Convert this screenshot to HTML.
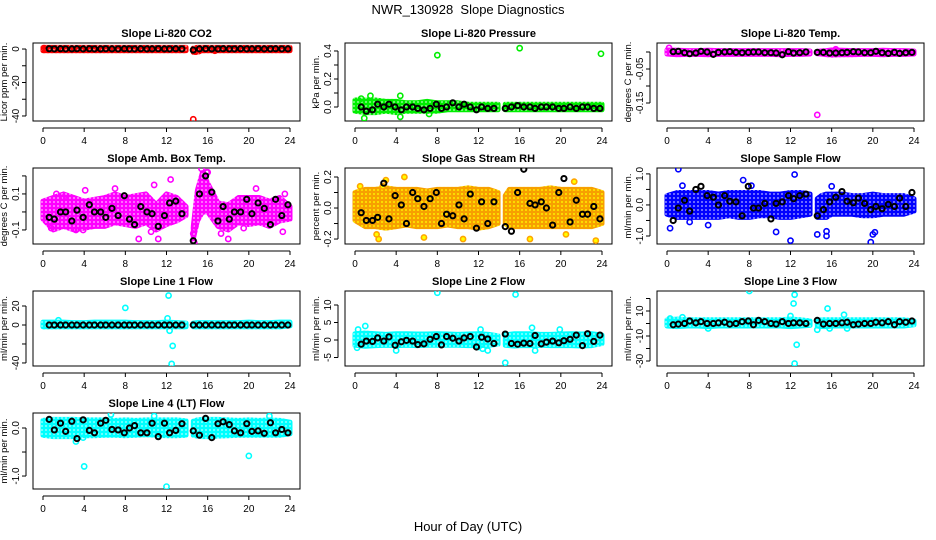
<!DOCTYPE html>
<html><head><meta charset="utf-8"><style>
body{margin:0;background:#fff;}
svg{display:block;font-family:"Liberation Sans",sans-serif;}
</style></head><body>
<svg id="chart" width="936" height="540" viewBox="0 0 936 540" xmlns="http://www.w3.org/2000/svg">
<defs id="defs"></defs>
<text x="468" y="14" text-anchor="middle" font-size="13">NWR_130928&#160; Slope Diagnostics</text>
<text x="468" y="531" text-anchor="middle" font-size="13">Hour of Day (UTC)</text>
</svg>
<script>
// shared hours of the black (averaged) points
const blackHours=[0.6,1.1,1.7,2.2,2.8,3.3,3.9,4.5,5.0,5.6,6.1,6.7,7.3,7.9,8.4,8.9,9.5,10.1,10.6,11.2,11.8,12.3,12.9,13.5,14.6,15.2,15.8,16.4,17.0,17.5,18.1,18.6,19.2,19.8,20.3,20.9,21.5,22.1,22.6,23.2,23.8];
const xTicks=[0,4,8,12,16,20,24];
const titles=["Slope Li-820 CO2","Slope Li-820 Pressure","Slope Li-820 Temp.","Slope Amb. Box Temp.","Slope Gas Stream RH","Slope Sample Flow","Slope Line 1 Flow","Slope Line 2 Flow","Slope Line 3 Flow","Slope Line 4 (LT) Flow"];
const yTitles=["Licor ppm per min.","kPa per min.","degrees C per min.","degrees C per min.","percent per min.","ml/min per min.","ml/min per min.","ml/min per min.","ml/min per min.","ml/min per min."];
const yDomains=[[-43,3.6],[-0.1,0.457],[-0.203,0.0265],[-0.178,0.244],[-0.232,0.258],[-1.258,1.19],[-43.2,35.8],[-7.43,14.0],[-34,26],[-1.27,0.3125]];
const yTickVals=[[0,-10,-20,-30,-40],[0,0.1,0.2,0.3,0.4],[0,-0.05,-0.1,-0.15],[-0.1,0,0.1,0.2],[-0.2,-0.1,0,0.1,0.2],[-1,-0.5,0,0.5,1],[-40,-20,0,20],[-5,0,5,10],[-30,-20,-10,0,10,20],[-1,-0.5,0]];
const yTickLabels=[["0","","-20","","-40"],["0.0","","0.2","","0.4"],["","-0.05","","-0.15"],["-0.1","","0.1",""],["-0.2","","0.0","","0.2"],["-1.0","","0.0","","1.0"],["-40","","0","20"],["-5","0","5","10"],["-30","","-10","","10",""],["-1.0","","0.0"]];
const colors=["#ff0000","#00ee00","#ff00ff","#ff00ff","#ffa500","#0000ff","#00ffff","#00ffff","#00ffff","#00ffff"];
// band (dense coloured cloud) per panel: hours, low, high (null = gap)
const bandT=[0,1,2,3,4,5,6,7,8,9,10,11,12,13,13.9,null,14.6,15,15.5,16,17,18,19,20,21,22,23,24];
const bandLo=[
[-1,-1,-1,-1,-1,-1,-1,-1,-1,-1,-1,-1,-1,-1,-1,null,-2,-2,-1,-1,-1,-1,-1,-1,-1,-1,-1,-1],
[-0.03,-0.04,-0.04,-0.03,-0.04,-0.03,-0.03,-0.03,-0.03,-0.02,-0.02,-0.02,-0.02,-0.02,-0.02,null,-0.02,-0.02,-0.02,-0.02,-0.02,-0.02,-0.02,-0.02,-0.02,-0.02,-0.02,-0.02],
[-0.006,-0.008,-0.007,-0.007,-0.008,-0.007,-0.007,-0.007,-0.007,-0.007,-0.007,-0.008,-0.007,-0.007,-0.006,null,-0.005,-0.006,-0.008,-0.009,-0.008,-0.008,-0.007,-0.007,-0.008,-0.007,-0.007,-0.006],
[-0.04,-0.1,-0.08,-0.1,-0.09,-0.08,-0.08,-0.06,-0.07,-0.08,-0.06,-0.1,-0.07,-0.05,-0.02,null,-0.15,-0.05,0.0,0.0,-0.08,-0.1,-0.06,-0.07,-0.06,-0.08,-0.05,-0.04],
[-0.08,-0.12,-0.12,-0.13,-0.12,-0.11,-0.12,-0.12,-0.12,-0.11,-0.12,-0.12,-0.13,-0.12,-0.1,null,-0.1,-0.12,-0.12,-0.12,-0.12,-0.12,-0.12,-0.12,-0.12,-0.12,-0.12,-0.1],
[-0.3,-0.4,-0.4,-0.4,-0.4,-0.4,-0.35,-0.4,-0.4,-0.35,-0.35,-0.4,-0.4,-0.35,-0.3,null,-0.4,-0.4,-0.4,-0.3,-0.3,-0.3,-0.35,-0.35,-0.3,-0.3,-0.3,-0.2],
[-2,-2,-2,-2,-2,-2,-2,-2,-2,-2,-2,-2,-2,-2,-2,null,-2,-2,-2,-2,-2,-2,-2,-2,-2,-2,-2,-1],
[-1.5,-1.8,-1.6,-1.5,-1.6,-1.5,-1.6,-1.5,-1.5,-1.5,-1.5,-1.6,-1.6,-1.5,-1.2,null,-1.5,-1.6,-1.7,-1.6,-1.6,-1.5,-1.6,-1.6,-1.6,-1.7,-1.6,-1.0],
[-2,-2.5,-2,-2,-2.5,-2,-2,-2,-2,-2,-2,-2,-2.5,-2,-1.5,null,-2,-2.5,-2.5,-2,-2,-2,-2,-2,-2,-2,-2,-1],
[-0.15,-0.18,-0.18,-0.18,-0.16,-0.16,-0.15,-0.15,-0.16,-0.15,-0.14,-0.15,-0.16,-0.16,-0.15,null,-0.15,-0.17,-0.18,-0.18,-0.17,-0.16,-0.15,-0.15,-0.15,-0.15,-0.15,-0.12]];
const bandHi=[
[1,1,1,1,1,1,1,1,1,1,1,1,1,1,1,null,0.5,1,1,1,1,1,1,1,1,1,1,1],
[0.05,0.05,0.05,0.04,0.04,0.03,0.03,0.04,0.03,0.03,0.03,0.02,0.02,0.02,0.02,null,0.02,0.02,0.02,0.02,0.02,0.02,0.02,0.02,0.02,0.02,0.02,0.02],
[0.006,0.005,0.004,0.004,0.005,0.004,0.004,0.004,0.004,0.004,0.004,0.004,0.004,0.004,0.003,null,0.002,0.003,0.004,0.006,0.005,0.004,0.004,0.004,0.005,0.004,0.004,0.003],
[0.06,0.08,0.1,0.08,0.06,0.07,0.08,0.1,0.08,0.09,0.1,0.04,0.1,0.08,0.03,null,-0.08,0.12,0.22,0.16,0.05,0.04,0.08,0.08,0.08,0.06,0.08,0.03],
[0.1,0.12,0.12,0.13,0.12,0.12,0.12,0.11,0.12,0.12,0.12,0.13,0.12,0.12,0.1,null,0.08,0.12,0.12,0.12,0.12,0.12,0.13,0.12,0.12,0.12,0.12,0.1],
[0.3,0.4,0.4,0.4,0.4,0.35,0.4,0.4,0.4,0.4,0.35,0.35,0.4,0.4,0.35,null,0.2,0.3,0.35,0.35,0.35,0.3,0.3,0.35,0.3,0.3,0.3,0.2],
[3,3,3,2.5,2.5,3,3,3,3,2.5,2.5,2.5,3,2.5,2,null,2,2.5,2.5,2.5,2.5,2.5,2.5,3,2.5,2.5,3,3],
[1.8,2.0,1.8,1.6,1.8,1.8,1.7,1.7,1.8,1.7,1.6,1.7,1.8,1.6,1.2,null,1.5,1.6,1.8,1.8,1.8,1.6,1.6,1.7,1.8,1.7,1.8,1.4],
[3,3.5,3,3,3,3,3,3,3,3,3,3,3.5,3,2,null,2,3,3,3,3,3,3,3,3,3,3,2],
[0.16,0.18,0.18,0.18,0.17,0.17,0.17,0.16,0.17,0.16,0.17,0.17,0.17,0.17,0.15,null,0.14,0.17,0.18,0.18,0.18,0.17,0.16,0.17,0.16,0.17,0.16,0.12]];
// outlier coloured points per panel
const outT=[[14.6,14.8,16.7,0.1],[8.0,16.0,23.9,0.9,1.5,4.4,4.4,7.2,0.6],[14.6,0.2,16.4],[0.8,1.3,2.0,3.2,3.9,4.1,7.0,9.3,10.5,10.8,11.2,12.4,14.7,14.6,14.8,15.4,15.9,16.0,17.3,18.0,19.5,20.7,23.5,23.3],[2.3,2.7,3.0,4.8,6.7,10.5,17.0,20.5,21.3,23.4,0.5,2.1],[1.1,0.3,12.4,12.0,19.8,20.0,20.2,14.6,15.5,15.5,1.5,7.4,10.6,16.0,2.2,8.2,4.0],[8.0,12.2,12.1,12.3,12.6,12.5,1.5],[8.0,15.6,14.6,0.2,1.0,0.3,4.0,12.2,12.4,12.9,17.2,17.5,19.9,12.0],[8.0,12.4,12.3,12.0,12.6,12.4,15.6,17.2,14.6,15.8,17.5,4.0,0.3,1.5],[4.0,12.0,20.0,3.2,6.6,22.0,3.9,10.8]];
const outV=[[-42,-1.5,-1,0.5],[0.37,0.42,0.38,-0.08,0.08,0.08,-0.07,-0.05,0.06],[-0.185,0.012,0.008],[-0.09,0.1,0.08,-0.1,-0.1,0.12,0.13,-0.15,-0.11,0.15,-0.15,0.18,-0.17,-0.12,-0.08,0.24,0.22,0.22,-0.12,-0.15,-0.09,0.13,0.1,-0.11],[-0.2,0.14,0.18,0.2,-0.19,-0.2,-0.2,-0.17,0.17,-0.21,0.14,-0.17],[1.15,-0.75,0.98,-1.15,-1.2,-0.95,-0.88,-0.95,-0.85,-1.0,0.62,0.8,-0.87,0.6,-0.55,0.62,-0.65],[18,31,7,-6,-22,-41,5],[13.5,13,-6.5,-2.2,4,3,-3,3,-2.5,-3,3.5,-3,3,-2],[26,23,16,6,-17,-32,12,7,-5,-4,-4,-4,4,5],[-0.8,-1.22,-0.58,-0.28,0.28,0.25,-0.2,0.25]];
// black (averaged) values per panel, matched to blackHours
const blackV=[
[0.2,0.1,0.2,0.1,0.1,0.2,0.1,0.2,0.1,0.1,0.2,0.1,0.1,0.2,0.1,0.1,0.2,0.1,0.1,0.2,0.1,0.1,0.2,0.1,-0.6,0.1,0.2,0.1,0.1,0.2,0.1,0.1,0.2,0.1,0.1,0.2,0.1,0.1,0.2,0.1,0.1],
[0.0,-0.03,-0.02,0.02,0.0,0.02,0.0,-0.02,0.0,0.0,-0.01,-0.02,-0.01,0.02,-0.01,0.0,0.03,0.0,0.02,0.0,-0.02,0.0,-0.01,-0.01,-0.01,0.0,0.01,0.0,0.0,-0.01,0.0,0.0,0.0,-0.01,-0.01,0.0,-0.01,0.0,0.0,-0.01,-0.01],
[0.001,0.002,-0.002,-0.005,-0.003,0.002,0.0,-0.007,-0.001,0.0,0.001,-0.001,-0.002,-0.001,0.0,0.0,-0.002,-0.002,-0.003,-0.008,0.001,-0.003,-0.002,0.0,-0.001,-0.001,-0.003,-0.003,-0.002,-0.001,0.001,0.0,-0.002,-0.002,0.002,-0.002,-0.004,-0.001,-0.004,-0.002,-0.001],
[-0.03,-0.04,0.0,0.0,-0.05,0.01,-0.03,0.04,0.0,0.0,-0.03,0.02,-0.02,0.09,-0.04,-0.07,0.03,0.0,-0.01,-0.08,-0.02,0.05,0.06,-0.01,-0.16,0.1,0.2,0.11,-0.05,0.03,-0.04,0.0,0.0,0.07,-0.01,0.05,0.02,-0.07,0.07,-0.02,0.04],
[-0.03,-0.08,-0.08,-0.06,0.16,-0.07,0.08,0.02,-0.1,0.1,0.06,0.01,0.06,0.1,-0.1,-0.04,-0.05,0.02,-0.07,0.09,-0.13,0.04,-0.1,0.04,-0.12,-0.15,0.1,0.25,0.03,0.02,0.04,0.0,-0.11,0.1,0.19,-0.09,0.05,-0.04,-0.04,0.01,-0.07],
[-0.5,-0.1,0.15,-0.2,0.5,0.6,0.3,0.25,0.0,0.3,0.12,0.1,-0.35,0.6,-0.1,-0.1,0.05,-0.45,0.05,0.1,0.3,0.2,0.3,0.35,-0.35,-0.15,0.1,0.25,0.43,0.12,0.07,0.22,0.05,-0.15,-0.05,-0.12,0.02,-0.05,0.22,-0.05,0.4],
[0,0,0,0,0,0,0,0,0,0,0,0,0,0,0,0,0,0,0,0,0,0,0,0,0,0,0,0,0,0,0,0,0,0,0,0,0,0,0,0,0],
[-1.2,-0.3,-0.4,0.6,-0.3,0.9,-1.5,-0.5,-0.1,-0.3,-1.3,-1.1,0.2,1.0,-1.4,1.0,0.5,-0.3,0.6,1.0,-2.0,0.8,0.3,-1.0,1.7,-1.0,-1.2,-0.9,-1.0,1.3,-1.1,-0.6,-0.3,-0.8,-0.2,0.2,1.4,-1.6,1.8,-0.4,1.4],
[-1,-0.5,0,2,0.5,1.5,0,0,0.5,1,-0.5,0,1.5,2,-1,2.5,1.5,0,-0.5,1.5,0,0.5,0.5,0,2.5,-0.5,0,0,0.5,1,-1,-0.5,0,0,1,0.5,1.5,-1,1.5,1,2],
[0.18,-0.04,0.1,-0.07,0.14,-0.22,0.17,-0.05,-0.1,0.1,0.16,-0.03,-0.04,-0.1,0.0,0.05,-0.1,-0.1,0.1,-0.18,0.1,-0.1,-0.05,0.09,-0.06,-0.15,0.2,-0.2,0.09,0.13,0.07,-0.06,-0.1,0.09,-0.07,-0.06,-0.11,0.11,-0.1,-0.03,-0.1]];

const NS="http://www.w3.org/2000/svg";
const svg=document.getElementById('chart');
const defs=document.getElementById('defs');
const colTick0=[43,355,667];
const rowBox=[[43,121],[168,244],[291,366],[413,489]];
const XW=247/24;
function mk(tag,attrs,parent){const e=document.createElementNS(NS,tag);for(const k in attrs)e.setAttribute(k,attrs[k]);(parent||svg).appendChild(e);return e;}
for(let p=0;p<10;p++){
  const col=p%3,row=Math.floor(p/3);
  const x0=colTick0[col],bl=x0-10,br=x0+257,[bt,bb]=rowBox[row];
  const [ymin,ymax]=yDomains[p];
  const xs=h=>x0+h*XW;
  const ys=v=>bb-(v-ymin)/(ymax-ymin)*(bb-bt);
  const pat=mk('pattern',{id:'pat'+p,width:4,height:4,patternUnits:'userSpaceOnUse'},defs);
  mk('rect',{x:0,y:0,width:4,height:4,fill:p===4?'#f7a000':colors[p]},pat);
  mk('circle',{cx:2,cy:2,r:1,fill:p===4?'#ffee00':'#fff','fill-opacity':p===4?1:0.55},pat);
  const g=mk('g',{});
  
  
  const cp=mk('clipPath',{id:'cp'+p},g);mk('rect',{x:bl,y:bt,width:br-bl,height:bb-bt},cp);
  const t=mk('text',{x:(bl+br)/2,y:bt-6,'text-anchor':'middle','font-size':'11','font-weight':'bold'},g);
  t.textContent=titles[p];
  
  
  const box=mk('rect',{x:bl,y:bt,width:br-bl,height:bb-bt,fill:'none',stroke:'#000','stroke-width':1},g);
  
  
  mk('line',{x1:xs(0),x2:xs(24),y1:bb+7,y2:bb+7,stroke:'#000'},g);
  xTicks.forEach(v=>{mk('line',{x1:xs(v),x2:xs(v),y1:bb+7,y2:bb+11,stroke:'#000'},g);
    const l=mk('text',{x:xs(v),y:bb+23,'text-anchor':'middle','font-size':'10'},g);l.textContent=v;
    
    });
  const tv=yTickVals[p];
  mk('line',{x1:bl-7,x2:bl-7,y1:ys(Math.min(...tv)),y2:ys(Math.max(...tv)),stroke:'#000'},g);
  tv.forEach((v,i)=>{const y=ys(v);mk('line',{x1:bl-11,x2:bl-7,y1:y,y2:y,stroke:'#000'},g);
    if(yTickLabels[p][i]){const l=mk('text',{x:bl-14,y:y,'text-anchor':'middle','font-size':'10',transform:`rotate(-90 ${bl-14} ${y})`},g);l.textContent=yTickLabels[p][i];
    
    }});
  const yt=mk('text',{x:bl-26,y:(bt+bb)/2,'text-anchor':'middle','font-size':'9.5',transform:`rotate(-90 ${bl-26} ${(bt+bb)/2})`},g);
  yt.textContent=yTitles[p];
  
  
  const pg=mk('g',{'clip-path':`url(#cp${p})`},g);
  let seg=[];const segs=[];
  bandT.forEach((h,i)=>{if(h===null){segs.push(seg);seg=[];}else seg.push([h,bandLo[p][i],bandHi[p][i]]);});segs.push(seg);
  segs.forEach(s=>{if(!s.length)return;
    const pts=s.map(q=>xs(q[0])+','+ys(q[2])).concat(s.slice().reverse().map(q=>xs(q[0])+','+ys(q[1])));
    const poly=mk('polygon',{points:pts.join(' '),fill:`url(#pat${p})`,stroke:`url(#pat${p})`,'stroke-width':5,'stroke-linejoin':'round'},pg);
    
    });
  outT[p].forEach((h,i)=>{const c=mk('circle',{cx:xs(h),cy:ys(outV[p][i]),r:2.6,fill:p===4?'#ffff00':'none',stroke:colors[p],'stroke-width':1.6},pg);
    
    });
  blackHours.forEach((h,i)=>{const c=mk('circle',{cx:xs(h),cy:ys(blackV[p][i]),r:2.6,fill:'none',stroke:'#000','stroke-width':2},pg);
    
    });
}
</script>
</body></html>
